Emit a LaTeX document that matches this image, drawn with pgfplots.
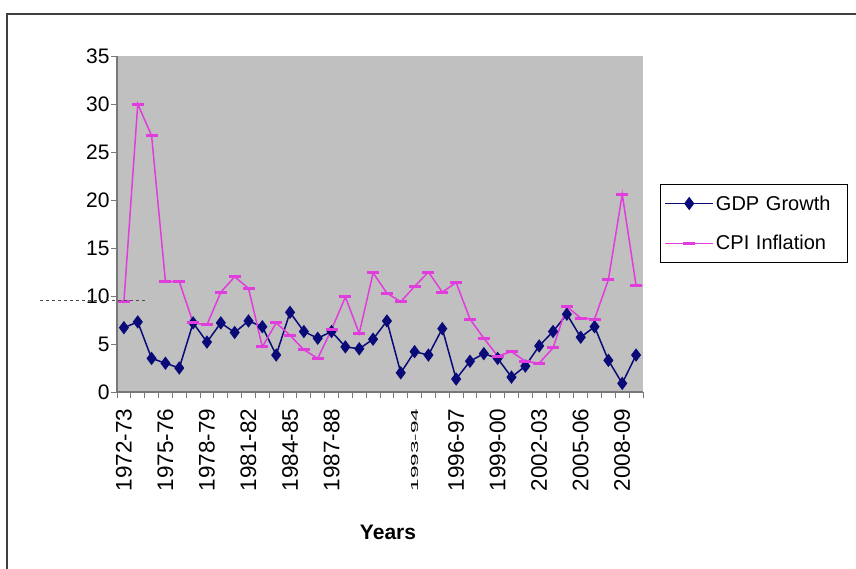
\documentclass[border=0pt]{standalone}
\usepackage{fontspec}
\setmainfont{Liberation Sans}
\usepackage{graphicx}
\usepackage{pgfplots}
\pgfplotsset{compat=1.18}
\definecolor{plotgray}{RGB}{192,192,192}
\definecolor{gdpnavy}{RGB}{10,10,120}
\definecolor{cpipink}{RGB}{225,60,220}
\definecolor{axgray}{RGB}{120,120,120}
\begin{document}
\begin{tikzpicture}
\useasboundingbox (-117bp,-177bp) rectangle (739bp,392bp);
\fill[white] (-117bp,-177bp) rectangle (739bp,392bp);
\draw[line width=2bp, black!75] (-110bp,-177bp) -- (-110bp,378bp) -- (739bp,378bp);
\begin{axis}[
  scale only axis,
  width=526bp, height=336bp,
  xmin=-0.5, xmax=37.5,
  ymin=0, ymax=35,
  axis x line=bottom, axis y line=left,
  axis line style={-, axgray, line width=1.2bp},
  axis background/.style={fill=plotgray},
  xtick={-0.5,0.5,...,37.5},
  xticklabels={},
  extra x ticks={0,3,6,9,12,15,18,21,24,27,30,33,36},
  extra x tick labels={1972-73,1975-76,1978-79,1981-82,1984-85,1987-88,{},{\scalebox{1}[0.45]{1993-94}},1996-97,1999-00,2002-03,2005-06,2008-09},
  extra x tick style={major tick length=0pt, tick label style={rotate=90, anchor=east, font=\fontsize{22.5bp}{24bp}\selectfont, xshift=-13bp}},
  ytick={0,5,...,35},
  tick style={axgray, line width=1bp},
  major tick length=6bp,
  tick align=outside,
  y tick label style={font=\fontsize{21bp}{22bp}\selectfont, xshift=2bp},
  /pgf/number format/assume math mode=true,
  xlabel={\bfseries Years},
  xlabel style={font=\fontsize{21bp}{24bp}\selectfont, at={(axis description cs:0.5,0)}, anchor=north, yshift=-130bp, xshift=8bp},
  legend style={at={(1.0323,0.619)}, anchor=north west, draw=black, line width=1bp, fill=white,
    font=\fontsize{20bp}{21bp}\selectfont, inner xsep=4bp, inner ysep=9bp, row sep=20bp,
    cells={anchor=west}, text width=126bp},
  legend image code/.code={
    \draw[#1, line width=1.5bp] (0bp,0bp) -- (24bp,0bp) plot coordinates {(24bp,0bp)} -- (48bp,0bp);
  },
]
\addplot[gdpnavy, line width=1.5bp, mark=diamond*, mark size=5.5bp, mark options={fill=gdpnavy, draw=gdpnavy}] coordinates {
(0,6.7) (1,7.3) (2,3.5) (3,3.0) (4,2.5) (5,7.2) (6,5.2) (7,7.2) (8,6.2) (9,7.4)
(10,6.8) (11,3.85) (12,8.3) (13,6.3) (14,5.6) (15,6.3) (16,4.7) (17,4.5) (18,5.5) (19,7.4)
(20,2.0) (21,4.2) (22,3.85) (23,6.6) (24,1.35) (25,3.2) (26,4.0) (27,3.5) (28,1.55) (29,2.7)
(30,4.8) (31,6.3) (32,8.1) (33,5.7) (34,6.8) (35,3.3) (36,0.9) (37,3.85)
};
\addlegendentry{GDP Growth}
\addplot[cpipink, line width=1.5bp, mark=-, mark size=6bp, mark options={line width=3bp, draw=cpipink}] coordinates {
(0,9.4) (1,30.0) (2,26.7) (3,11.5) (4,11.5) (5,7.2) (6,7.0) (7,10.4) (8,12.0) (9,10.8)
(10,4.7) (11,7.2) (12,5.9) (13,4.4) (14,3.5) (15,6.5) (16,9.9) (17,6.1) (18,12.4) (19,10.3)
(20,9.4) (21,11.0) (22,12.5) (23,10.4) (24,11.4) (25,7.6) (26,5.6) (27,3.75) (28,4.2) (29,3.2)
(30,3.0) (31,4.6) (32,8.9) (33,7.7) (34,7.6) (35,11.7) (36,20.6) (37,11.1)
};
\addlegendentry{CPI Inflation}
\end{axis}
\draw[dashed, black!70, line width=1bp] (-77bp,91bp) -- (28bp,91bp);
\end{tikzpicture}
\end{document}
